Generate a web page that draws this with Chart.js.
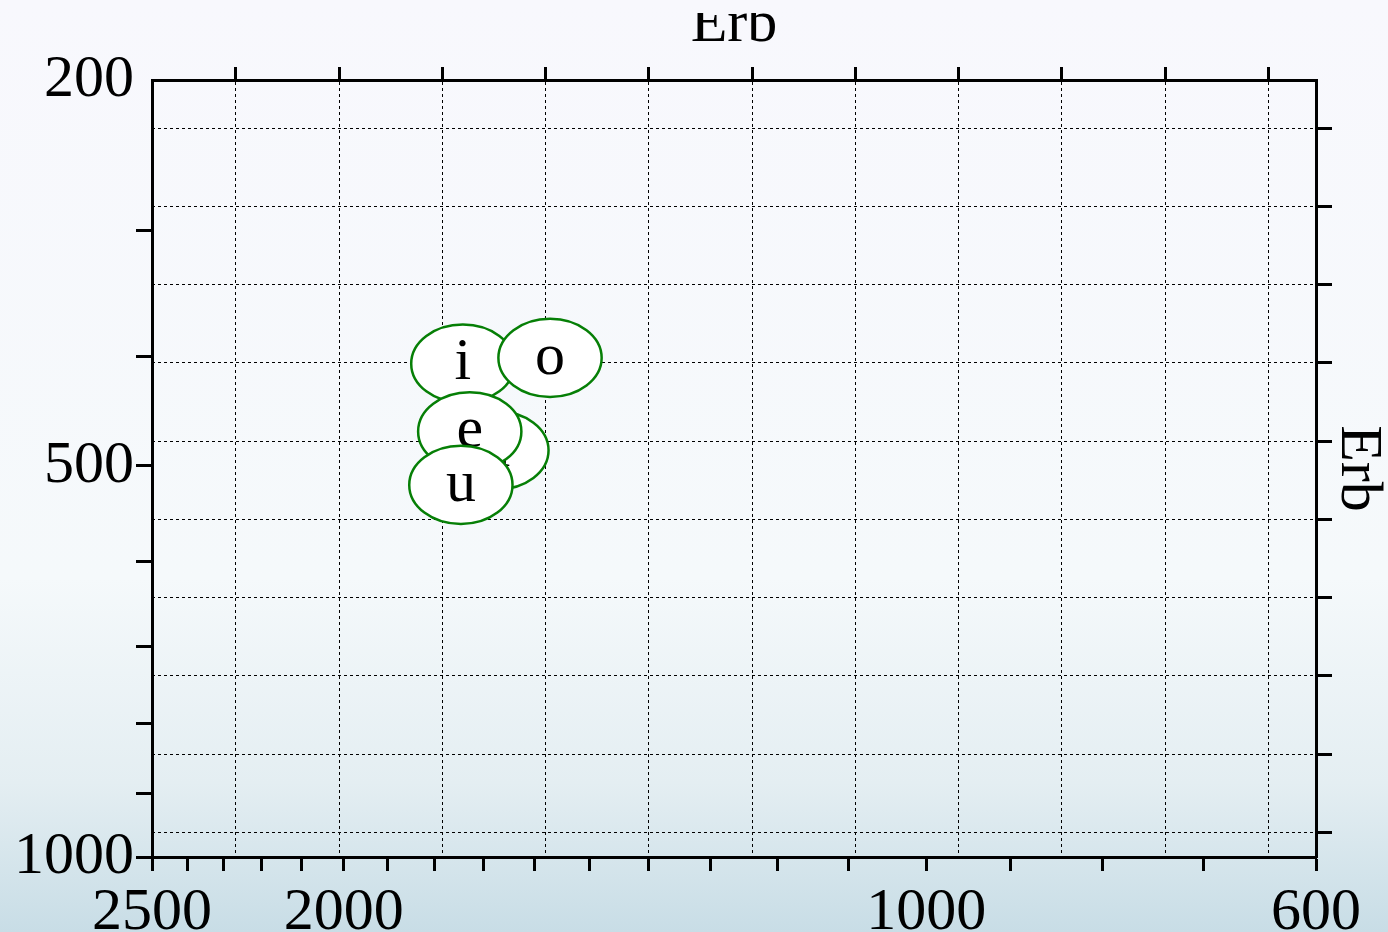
<!DOCTYPE html>
<html>
<head>
<meta charset="utf-8">
<script src="https://cdn.jsdelivr.net/npm/chart.js@4.4.1/dist/chart.umd.min.js"></script>
<style>
    html, body {
        margin: 0;
        width: 1388px;
        height: 932px;
        overflow: hidden;
    }
    html {
        background: linear-gradient(to bottom, #f8f8fd 0%, #f5f9fb 62%, #e4eef2 84%, #c8dde6 100%);
    }
    #clip {
        position: absolute;
        left: 0;
        top: 13px;
        width: 1388px;
        height: 919px;
        overflow: hidden;
    }
    #wrap {
        position: absolute;
        left: 0;
        top: -18px;
        width: 1388px;
        height: 960px;
    }
</style>
</head>
<body>
<div id="clip"><div id="wrap"><canvas id="chart"></canvas></div></div>
<script>
// vowel formants in Hz, drawn in this order (later ones on top)
const vowels = ['i', 'o', 'a', 'e', 'u'];
const f1Hz = [406, 401, 485, 467, 519];
const f2Hz = [1741, 1572, 1673, 1727, 1745];

// F2 axis (bottom) ticks and labels
const xTickHz = [2500, 2400, 2300, 2200, 2100, 2000, 1900, 1800, 1700, 1600, 1500, 1400, 1300, 1200, 1100, 1000, 900, 800, 700, 600];
const xLabelHz = [2500, 2000, 1000, 600];
// F1 axis (left) ticks and labels
const yTickHz = [200, 300, 400, 500, 600, 700, 800, 900, 1000];
const yLabelHz = [200, 500, 1000];
// Erb grid lines (top and right)
const erbGridX = [12, 13, 14, 15, 16, 17, 18, 19, 20, 21, 22];
const erbGridY = [6, 7, 8, 9, 10, 11, 12, 13, 14, 15];

const erb = (f) => 11.17268 * Math.log(1 + 46.06538 * f / (f + 14678.49));

const black = '#000';
Chart.defaults.font.family = '"Liberation Serif", "DejaVu Serif", serif';
Chart.defaults.font.size = 60;
Chart.defaults.color = black;

const ellipsePlugin = {
    id: 'vowelEllipses',
    afterDatasetsDraw(chart) {
        const { ctx, scales } = chart;
        const meta = chart.getDatasetMeta(0);
        const points = chart.data.datasets[0].data;
        ctx.save();
        meta.data.forEach((el, i) => {
            const p = points[i];
            const rx = Math.abs(scales.x.getPixelForValue(p.x + 0.5) - el.x);
            const ry = Math.abs(scales.y.getPixelForValue(p.y + 0.5) - el.y);
            ctx.beginPath();
            ctx.ellipse(el.x, el.y, rx, ry, 0, 0, 2 * Math.PI);
            ctx.fillStyle = '#ffffff';
            ctx.fill();
            ctx.lineWidth = 2.5;
            ctx.strokeStyle = '#067f06';
            ctx.stroke();
            ctx.fillStyle = black;
            ctx.font = '60px "Liberation Serif", serif';
            ctx.textAlign = 'center';
            ctx.textBaseline = 'middle';
            ctx.fillText(vowels[i], el.x, el.y);
        });
        ctx.restore();
    },
};

const border = { display: true, color: black, width: 3 };

new Chart(document.getElementById('chart'), {
    type: 'scatter',
    data: {
        datasets: [{
            data: vowels.map((v, i) => ({ x: erb(f2Hz[i]), y: erb(f1Hz[i]) })),
            pointRadius: 0,
            pointHoverRadius: 0,
            showLine: false,
        }],
    },
    options: {
        animation: false,
        responsive: true,
        maintainAspectRatio: false,
        devicePixelRatio: 1,
        layout: { padding: { left: 12, top: 0, right: 0, bottom: 0 } },
        plugins: {
            legend: { display: false },
            tooltip: { enabled: false },
        },
        scales: {
            x: {
                type: 'linear',
                position: 'bottom',
                reverse: true,
                min: erb(600),
                max: erb(2500),
                afterBuildTicks: (s) => { s.ticks = xTickHz.map((f) => ({ value: erb(f) })); },
                ticks: {
                    autoSkip: false,
                    maxRotation: 0,
                    minRotation: 0,
                    padding: 6,
                    font: { size: 60, lineHeight: 1.2 },
                    callback: (v, i) => (xLabelHz.includes(xTickHz[i]) ? String(xTickHz[i]) : ''),
                },
                grid: { drawOnChartArea: false, tickLength: 14, tickWidth: 3, tickColor: black, color: black },
                border,
            },
            y: {
                type: 'linear',
                position: 'left',
                reverse: true,
                min: erb(200),
                max: erb(1000),
                afterBuildTicks: (s) => { s.ticks = yTickHz.map((f) => ({ value: erb(f) })); },
                ticks: {
                    autoSkip: false,
                    padding: 2,
                    font: { size: 60, lineHeight: 1.2 },
                    callback: (v, i) => (yLabelHz.includes(yTickHz[i]) ? String(yTickHz[i]) : ''),
                },
                grid: {
                    drawOnChartArea: false,
                    tickLength: 16,
                    tickWidth: 3,
                    color: black,
                    tickColor: (ctx) => (ctx.index === 0 ? 'rgba(0,0,0,0)' : black),
                },
                border,
            },
            x2: {
                type: 'linear',
                axis: 'x',
                position: 'top',
                reverse: true,
                min: erb(600),
                max: erb(2500),
                afterBuildTicks: (s) => { s.ticks = erbGridX.map((v) => ({ value: v })); },
                ticks: { display: false },
                grid: { drawOnChartArea: true, color: black, lineWidth: 1, tickLength: 13, tickWidth: 3, tickColor: black, tickBorderDash: [] },
                border: { display: true, color: black, width: 3, dash: [3, 3] },
                title: { display: true, text: 'Erb', color: black, font: { size: 60, lineHeight: 1 }, padding: { top: 0, bottom: 12 } },
            },
            y2: {
                type: 'linear',
                axis: 'y',
                position: 'right',
                reverse: true,
                min: erb(200),
                max: erb(1000),
                afterBuildTicks: (s) => { s.ticks = erbGridY.map((v) => ({ value: v })); },
                ticks: { display: false },
                grid: { drawOnChartArea: true, color: black, lineWidth: 1, tickLength: 16, tickWidth: 3, tickColor: black, tickBorderDash: [] },
                border: { display: true, color: black, width: 3, dash: [3, 3] },
                title: { display: true, text: 'Erb', color: black, font: { size: 60, lineHeight: 1 }, padding: { top: 0, bottom: -4 } },
            },
        },
    },
    plugins: [ellipsePlugin],
});
</script>
</body>
</html>
